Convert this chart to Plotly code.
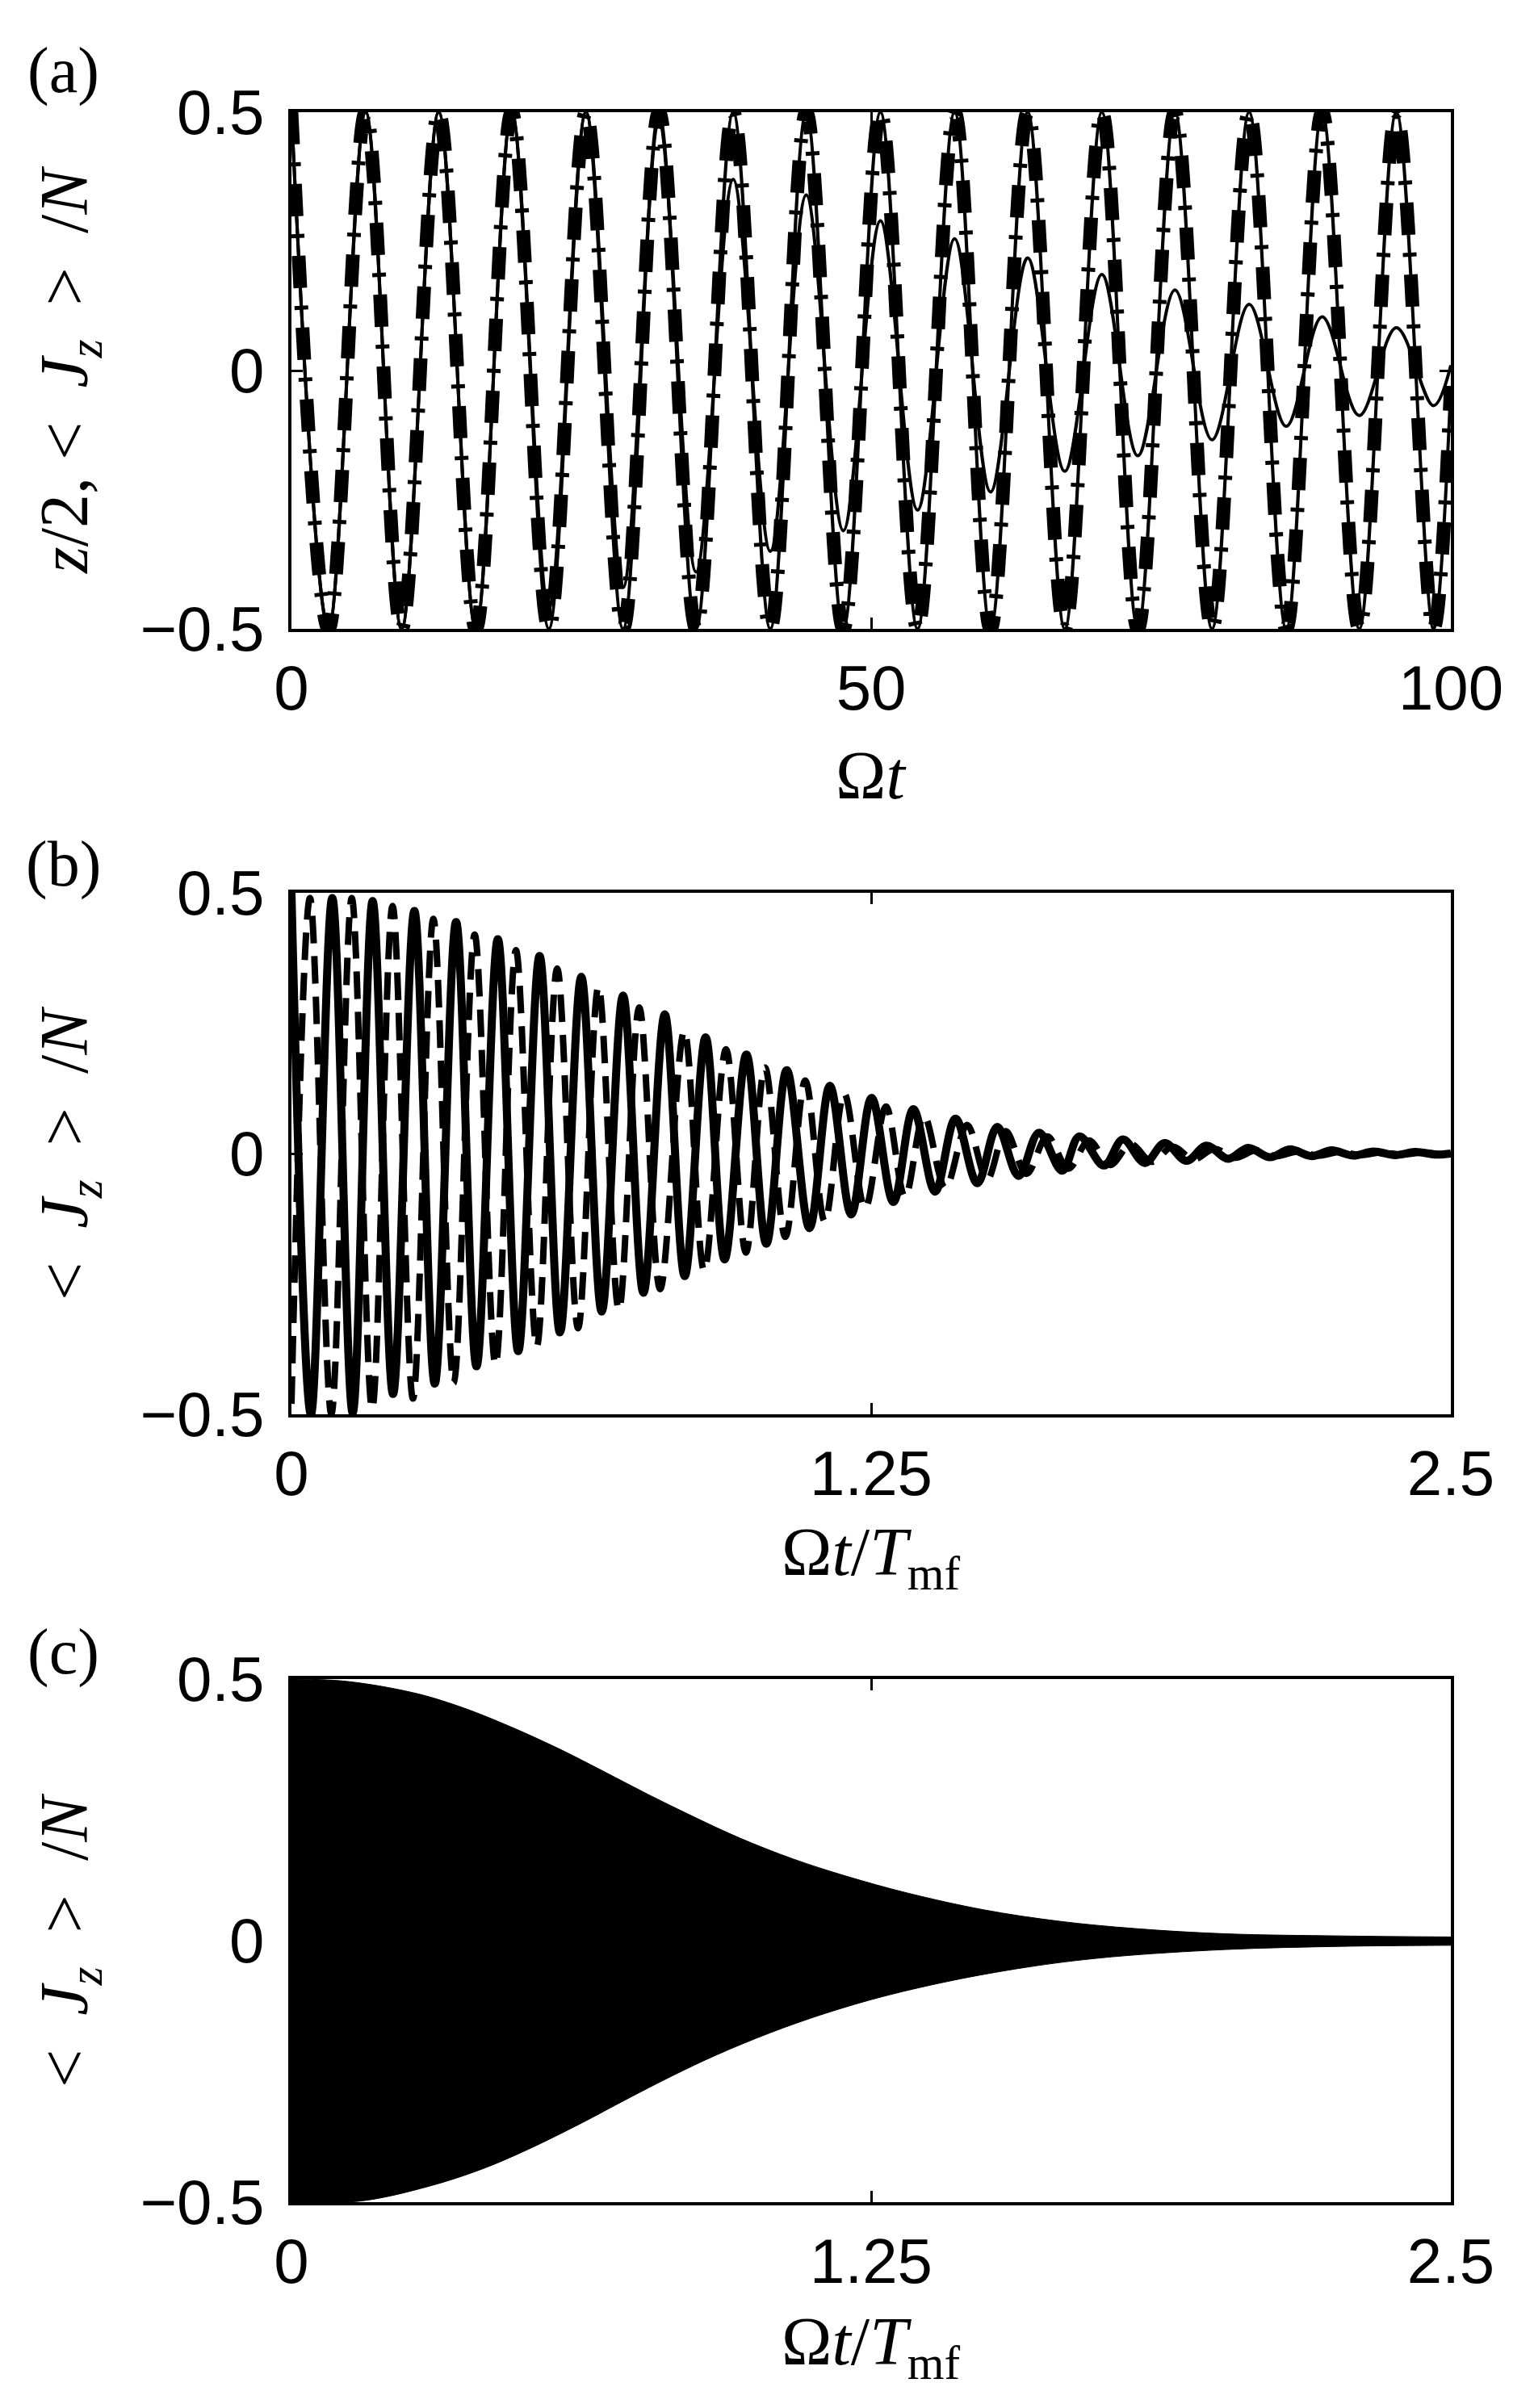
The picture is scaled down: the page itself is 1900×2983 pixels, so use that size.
import numpy as np
from plotly import graph_objects as go

# ---- Panel (a): extremos de las oscilaciones ----
a_t = [0, 3.2, 6.4, 9.5, 12.7, 15.9, 19.0, 22.2, 25.4, 28.6, 31.7, 34.9, 38.1, 41.3, 44.4, 47.6,
       50.8, 54.0, 57.2, 60.3, 63.5, 66.7, 69.9, 73.0, 76.2, 79.4, 82.6, 85.8, 88.9, 92.1, 95.3, 98.5, 100]
a_full = [0.5, -0.5, 0.5, -0.5, 0.5, -0.5, 0.5, -0.5, 0.5, -0.5, 0.5, -0.5, 0.5, -0.5, 0.5, -0.5,
          0.5, -0.5, 0.5, -0.5, 0.5, -0.5, 0.5, -0.5, 0.5, -0.5, 0.5, -0.5, 0.5, -0.5, 0.5, -0.5, -0.03]
a_decay = [0.5, -0.5, 0.5, -0.5, 0.5, -0.5, 0.5, -0.46, 0.5, -0.42, 0.48, -0.39, 0.37, -0.35, 0.34, -0.31,
           0.29, -0.27, 0.255, -0.235, 0.218, -0.195, 0.186, -0.165, 0.156, -0.134, 0.128, -0.108, 0.104,
           -0.087, 0.083, -0.068, 0.01]

# ---- Panel (b) ----
b_solid_t = [0, 0.042, 0.088, 0.132, 0.175, 0.219, 0.265, 0.309, 0.355, 0.399, 0.445, 0.489, 0.535, 0.579,
             0.625, 0.669, 0.715, 0.759, 0.805, 0.848, 0.893, 0.934, 0.981, 1.024, 1.068, 1.117, 1.161, 1.207,
             1.251, 1.298, 1.341, 1.388, 1.432, 1.479, 1.522, 1.568, 1.612, 1.662, 1.699, 1.752, 1.793, 1.84,
             1.883, 1.93, 1.973, 2.02, 2.063, 2.11, 2.153, 2.2, 2.243, 2.29, 2.333, 2.38, 2.423, 2.47, 2.5]
b_solid_v = [0.5, -0.5, 0.49, -0.497, 0.484, -0.461, 0.465, -0.441, 0.444, -0.408, 0.411, -0.379, 0.379, -0.343,
             0.339, -0.303, 0.303, -0.267, 0.267, -0.235, 0.223, -0.203, 0.19, -0.173, 0.16, -0.143, 0.13, -0.117,
             0.107, -0.093, 0.085, -0.073, 0.067, -0.057, 0.051, -0.043, 0.04, -0.033, 0.033, -0.023, 0.027,
             -0.018, 0.02, -0.014, 0.015, -0.01, 0.011, -0.007, 0.008, -0.005, 0.006, -0.004, 0.004, -0.003,
             0.003, -0.002, 0.0]
b_dash_t = [0, 0.040, 0.086, 0.130, 0.174, 0.218, 0.262, 0.306, 0.35, 0.395, 0.44, 0.484, 0.529, 0.573, 0.618,
            0.662, 0.706, 0.75, 0.795, 0.847, 0.89, 0.937, 0.98, 1.021, 1.065, 1.108, 1.15, 1.192, 1.237, 1.282,
            1.323, 1.364, 1.41, 1.457, 1.5, 1.54, 1.585, 1.63, 1.675, 1.72, 1.765, 1.81, 1.855, 1.9, 1.945, 1.99,
            2.035, 2.08, 2.125, 2.17, 2.215, 2.26, 2.305, 2.35, 2.395, 2.44, 2.485, 2.5]
b_dash_v = [-0.48, 0.49, -0.5, 0.49, -0.49, 0.475, -0.47, 0.45, -0.44, 0.42, -0.405, 0.39, -0.37, 0.355, -0.335,
            0.32, -0.3, 0.28, -0.26, 0.235, -0.225, 0.2, -0.19, 0.165, -0.16, 0.14, -0.13, 0.115, -0.105, 0.09,
            -0.083, 0.072, -0.066, 0.055, -0.05, 0.043, -0.039, 0.033, -0.029, 0.025, -0.022, 0.018, -0.016,
            0.013, -0.011, 0.009, -0.008, 0.006, -0.005, 0.004, -0.004, 0.003, -0.003, 0.002, -0.002, 0.002,
            -0.002, 0.0]

# ---- Panel (c): envolvente de la oscilacion rapida ----
c_up_t = [0, 0.115, 0.262, 0.361, 0.459, 0.574, 0.672, 0.770, 0.869, 0.967, 1.082, 1.197, 1.328, 1.492,
          1.656, 1.820, 2.016, 2.262, 2.5]
c_up_v = [0.5, 0.496, 0.474, 0.448, 0.414, 0.368, 0.324, 0.279, 0.236, 0.196, 0.156, 0.123, 0.091, 0.059,
          0.037, 0.023, 0.013, 0.009, 0.007]
c_lo_t = [0, 0.148, 0.295, 0.410, 0.508, 0.623, 0.721, 0.820, 0.918, 1.033, 1.148, 1.279, 1.443, 1.607,
          1.770, 2.016, 2.262, 2.5]
c_lo_v = [-0.5, -0.498, -0.470, -0.437, -0.400, -0.350, -0.304, -0.259, -0.218, -0.176, -0.140, -0.106,
          -0.073, -0.048, -0.031, -0.017, -0.011, -0.009]

W, H = 1900, 2983
serif = "Liberation Serif, Times New Roman, serif"
sans = "Liberation Sans, Arial, sans-serif"

fig = go.Figure()

# Panel (a)
fig.add_trace(go.Scatter(x=a_t, y=a_full, mode="lines", line=dict(color="black", width=4, shape="spline"),
                         xaxis="x", yaxis="y"))
fig.add_trace(go.Scatter(x=a_t, y=a_full, mode="lines",
                         line=dict(color="black", width=17, shape="spline", dash="40px,22px,5px,22px"),
                         xaxis="x", yaxis="y"))
fig.add_trace(go.Scatter(x=a_t, y=a_decay, mode="lines", line=dict(color="black", width=4, shape="spline"),
                         xaxis="x", yaxis="y"))

# Panel (b)
fig.add_trace(go.Scatter(x=b_dash_t, y=b_dash_v, mode="lines",
                         line=dict(color="black", width=8, shape="spline", dash="34px,16px"),
                         xaxis="x2", yaxis="y2"))
fig.add_trace(go.Scatter(x=b_solid_t, y=b_solid_v, mode="lines",
                         line=dict(color="black", width=10, shape="spline"),
                         xaxis="x2", yaxis="y2"))

# Panel (c)
fig.add_trace(go.Scatter(x=c_up_t, y=c_up_v, mode="lines", line=dict(color="black", width=1, shape="spline"),
                         xaxis="x3", yaxis="y3"))
fig.add_trace(go.Scatter(x=c_lo_t, y=c_lo_v, mode="lines", line=dict(color="black", width=1, shape="spline"),
                         fill="tonexty", fillcolor="black", xaxis="x3", yaxis="y3"))

# Ejes
x_dom = [361 / W, 1797 / W]
boxes = [(139, 779), (1106, 1752), (2080, 2728)]
ax_style = dict(showline=True, linecolor="black", linewidth=4, mirror="allticks", ticks="inside",
                ticklen=14, tickwidth=3, tickcolor="black", showgrid=False, zeroline=False,
                automargin=False, tickfont=dict(family=sans, size=78, color="black"))
x_ticks = [[0, 50, 100], [0, 1.25, 2.5], [0, 1.25, 2.5]]
x_ranges = [[0, 100], [0, 2.5], [0, 2.5]]

layout = dict(template="none", width=W, height=H, margin=dict(l=0, r=0, t=0, b=0, autoexpand=False),
              paper_bgcolor="white", plot_bgcolor="white", showlegend=False)
for i, (top, bot) in enumerate(boxes):
    s = "" if i == 0 else str(i + 1)
    layout["xaxis" + s] = dict(ax_style, domain=x_dom, range=x_ranges[i], tickvals=x_ticks[i],
                               anchor="y" + s, ticklabelstandoff=2)
    layout["yaxis" + s] = dict(ax_style, domain=[1 - bot / H, 1 - top / H], range=[-0.5, 0.5],
                               tickvals=[-0.5, 0, 0.5], anchor="x" + s, ticklabelstandoff=14)
fig.update_layout(**layout)

# Titulos y etiquetas de panel
jz = "&lt;  <i>J<sub>z</sub></i>  &gt;  /<i>N</i>"
notes = [
    ("(a)", 78, 88, 0, 80),
    ("(b)", 78, 1070, 0, 80),
    ("(c)", 78, 2046, 0, 80),
    ("Ω<i>t</i>", 1079, 960, 0, 84),
    ("Ω<i>t</i>/<i>T</i><sub>mf</sub>", 1079, 1929, 0, 84),
    ("Ω<i>t</i>/<i>T</i><sub>mf</sub>", 1079, 2907, 0, 84),
    ("<i>z</i>/2, " + jz, 86, 459, -90, 84),
    (jz, 86, 1429, -90, 84),
    (jz, 86, 2404, -90, 84),
]
for txt, px, py, ang, size in notes:
    fig.add_annotation(text=txt, x=px / W, y=1 - py / H, xref="paper", yref="paper", showarrow=False,
                       textangle=ang, xanchor="center", yanchor="middle",
                       font=dict(family=serif, size=size, color="black"))

fig.write_html("out.html", config={"displayModeBar": False},
               post_script="document.body.style.margin='0';")
